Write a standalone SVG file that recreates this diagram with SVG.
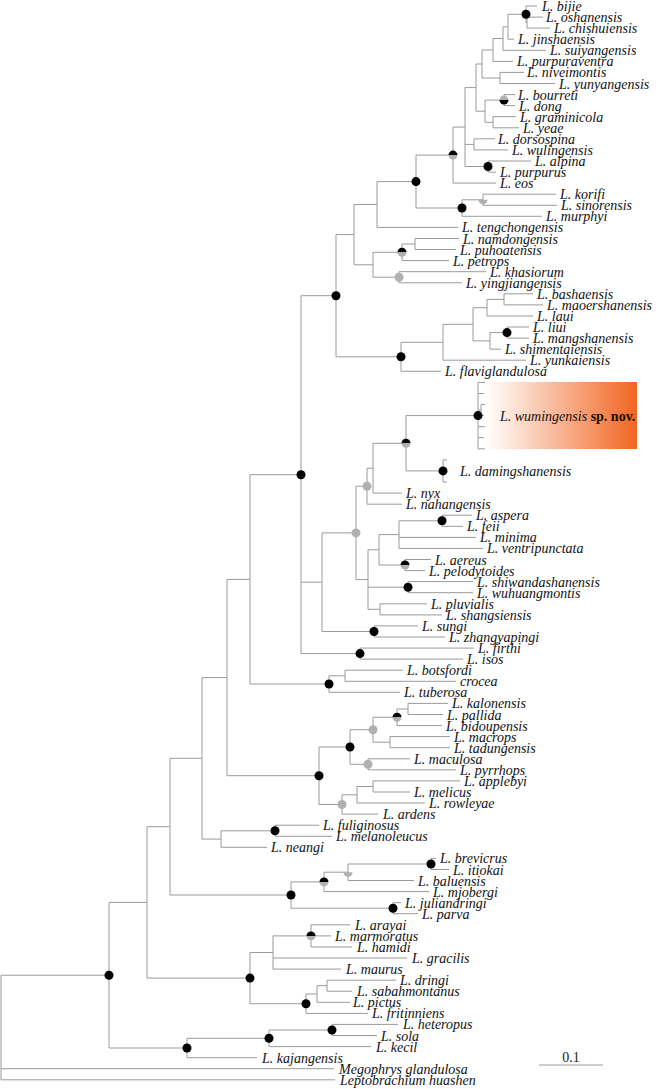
<svg xmlns="http://www.w3.org/2000/svg" xmlns:xlink="http://www.w3.org/1999/xlink" width="662" height="1089" viewBox="0 0 662 1089">
<style>
.e{fill:none;stroke:#9a9a9a;stroke-width:1}
.lb{font-family:"Liberation Serif","Times New Roman",serif;font-style:italic;font-size:14px;fill:#111}
.sc{font-family:"Liberation Serif","Times New Roman",serif;font-size:14px;fill:#222}
.bd{font-style:normal;font-weight:bold}
</style>
<defs>
<linearGradient id="og" x1="0" y1="0" x2="1" y2="0">
<stop offset="0" stop-color="#ffffff"/>
<stop offset="0.08" stop-color="#fef4ee"/>
<stop offset="1" stop-color="#f26522"/>
</linearGradient>
<circle id="cb" r="4.5" fill="#000"/>
<circle id="cg" r="4.5" fill="#b0b0b0"/>
<g id="hbg"><path d="M-4.5 0A4.5 4.5 0 0 1 4.5 0Z" fill="#000"/><path d="M-4.5 0A4.5 4.5 0 0 0 4.5 0Z" fill="#b0b0b0"/></g>
<g id="hgb"><path d="M-4.5 0A4.5 4.5 0 0 1 4.5 0Z" fill="#b0b0b0"/><path d="M-4.5 0A4.5 4.5 0 0 0 4.5 0Z" fill="#000"/></g>
<path id="hg" d="M-4.5 0A4.5 4.5 0 0 0 4.5 0Z" fill="#b0b0b0"/>
</defs>
<rect x="0" y="0" width="662" height="1089" fill="#fff"/>
<g id="highlight"><rect x="485" y="382" width="152" height="67" fill="url(#og)"/></g>
<g id="connectors" class="e">
<path d="M527 17.1V28.1M527 17.1H543M527 28.1H550M526 6V22.6M526 6H537M526 22.6H527M508 14.3V39.2M508 14.3H526M508 39.2H514M503 26.8V50.3M503 26.8H508M503 50.3H546M493 38.5V61.4M493 38.5H503M493 61.4H513M500 72.4V83.5M500 72.4H524M500 83.5H555M482 50V78M482 50H493M482 78H500"/>
<path d="M504 94.6V105.6M504 94.6H515M504 105.6H515M493 116.7V127.8M493 116.7H516M493 127.8H519M485 100.1V122.3M485 100.1H504M485 122.3H493M476 64V111.2M476 64H482M476 111.2H485M474 138.8V149.9M474 138.8H495M474 149.9H508M488 161V172.1M488 161H531M488 172.1H496M465 87.6V166.5M465 87.6H476M465 144.4H474M465 166.5H488M453 127.1V183.1M453 127.1H465M453 183.1H496"/>
<path d="M483 194.2V205.3M483 194.2H556M483 205.3H557M462 199.8V216.3M462 199.8H483M462 216.3H542M416 155.1V208M416 155.1H453M416 208H462M377 181.6V227.4M377 181.6H416M377 227.4H458M415 238.5V249.5M415 238.5H459M415 249.5H456M402 244V260.6M402 244H415M402 260.6H449M399 271.7V282.8M399 271.7H486M399 282.8H462M373 252.3V277.2M373 252.3H402M373 277.2H399M354 204.5V264.8M354 204.5H377M354 264.8H373"/>
<path d="M504 293.8V304.9M504 293.8H533M504 304.9H543M487 299.4V316M487 299.4H504M487 316H533M507 327V338.1M507 327H529M507 338.1H529M490 332.6V349.2M490 332.6H507M490 349.2H501M473 307.7V340.9M473 307.7H487M473 340.9H490M443 324.3V360.2M443 324.3H473M443 360.2H526M401 342.3V371.3M401 342.3H443M401 371.3H441M336 234.6V356.8M336 234.6H354M336 356.8H401"/>
<path d="M478 382.4V448.8M478 382.4H485M478 393.5H484M481 404.5V415.6M478 410H481M481 404.5H485M481 415.6H484M478 426.7H485M478 437.7H484M478 448.8H485M443 459.9V482M443 459.9H447M443 470.9H446M443 482H447M406 415.6V470.9M406 415.6H478M406 470.9H443M373 443.3V493.1M373 443.3H406M373 493.1H402M367 468.2V504.2M367 468.2H373M367 504.2H402"/>
<path d="M442 515.2V526.3M442 515.2H472M442 526.3H463M399 520.8V548.4M399 520.8H442M399 537.4H476M399 548.4H483M405 559.5V570.6M405 559.5H431M405 570.6H425M379 534.6V565M379 534.6H399M379 565H405M408 581.6V592.7M408 581.6H473M408 592.7H473M380 603.8V614.9M380 603.8H427M380 614.9H442M368 549.8V609.3M368 549.8H379M368 587.2H408M368 609.3H380M356 486.2V579.6M356 486.2H367M356 579.6H368M374 625.9V637M374 625.9H418M374 637H445M322 532.9V631.5M322 532.9H356M322 631.5H374M360 648.1V659.1M360 648.1H474M360 659.1H463M301 295.7V653.6M301 295.7H336M301 582.2H322M301 653.6H360M345 670.2V681.3M345 670.2H403M345 681.3H456M329 675.8V692.3M329 675.8H345M329 692.3H400M250 474.7V684M250 474.7H301M250 684H329"/>
<path d="M408 703.4V714.5M408 703.4H448M408 714.5H443M397 709V725.6M397 709H408M397 725.6H442M390 736.6V747.7M390 736.6H450M390 747.7H450M373 717.3V742.2M373 717.3H397M373 742.2H390M368 758.8V769.8M368 758.8H410M368 769.8H456M350 729.7V764.3M350 729.7H373M350 764.3H368M373 780.9V792M373 780.9H460M373 792H410M357 786.5V803M357 786.5H373M357 803H425M342 794.8V814.1M342 794.8H357M342 814.1H378M319 747V804.5M319 747H350M319 804.5H342M227 579.4V775.7M227 579.4H250M227 775.7H319"/>
<path d="M275 825.2V836.3M275 825.2H319M275 836.3H332M221 830.8V847.3M221 830.8H275M221 847.3H267M202 677.6V839.1M202 677.6H227M202 839.1H221M431 858.4V869.5M431 858.4H436M431 869.5H449M348 864V880.5M348 864H431M348 880.5H414M324 872.2V891.6M324 872.2H348M324 891.6H429M393 902.7V913.7M393 902.7H401M393 913.7H418M291 881.9V908.2M291 881.9H324M291 908.2H393M170 758.3V895M170 758.3H202M170 895H291"/>
<path d="M311 924.8V947M311 924.8H350M311 935.9H331M311 947H352M273 935.9V969.1M273 935.9H311M273 958H407M273 969.1H341M327 980.2V991.2M327 980.2H396M327 991.2H352M317 985.7V1002.3M317 985.7H327M317 1002.3H350M306 994V1013.4M306 994H317M306 1013.4H368M250 952.5V1003.7M250 952.5H273M250 1003.7H306M147 826.7V978.1M147 826.7H170M147 978.1H250"/>
<path d="M332 1024.4V1035.5M332 1024.4H398M332 1035.5H377M269 1030V1046.6M269 1030H332M269 1046.6H371M187 1038.3V1057.7M187 1038.3H269M187 1057.7H257M109 902.4V1048M109 902.4H147M109 1048H187M1 975.2V1079.8M1 975.2H109M1 1068.7H334M1 1079.8H335"/>
</g>
<g id="nodes">
<g id="n1"><use xlink:href="#cb" x="526" y="14.3"/></g>
<g id="n-bourreti-dong"><use xlink:href="#hgb" x="504" y="100.1"/></g>
<g id="n-alpina"><use xlink:href="#cb" x="488" y="166.5"/></g>
<g id="n8"><use xlink:href="#hbg" x="453" y="155.1"/></g>
<g id="n-korifi"><use xlink:href="#hg" x="483" y="199.8"/></g>
<g id="n-murphyi"><use xlink:href="#cb" x="462" y="208"/></g>
<g id="n9"><use xlink:href="#cb" x="416" y="181.6"/></g>
<g id="n-petrops"><use xlink:href="#hbg" x="402" y="252.3"/></g>
<g id="n-khasiorum"><use xlink:href="#cg" x="399" y="277.2"/></g>
<g id="n-liui"><use xlink:href="#cb" x="507" y="332.6"/></g>
<g id="n14"><use xlink:href="#cb" x="401" y="356.8"/></g>
<g id="n13"><use xlink:href="#cb" x="336" y="295.7"/></g>
<g id="n-wumingensis"><use xlink:href="#cb" x="478" y="415.6"/></g>
<g id="n-damingshanensis"><use xlink:href="#cb" x="443" y="470.9"/></g>
<g id="m6"><use xlink:href="#hbg" x="406" y="443.3"/></g>
<g id="m4"><use xlink:href="#cg" x="367" y="486.2"/></g>
<g id="n-aspera"><use xlink:href="#cb" x="442" y="520.8"/></g>
<g id="n-aereus"><use xlink:href="#hbg" x="405" y="565"/></g>
<g id="n-shiwandashanensis"><use xlink:href="#cb" x="408" y="587.2"/></g>
<g id="m3"><use xlink:href="#cg" x="356" y="532.9"/></g>
<g id="n-sungi"><use xlink:href="#cb" x="374" y="631.5"/></g>
<g id="n-firthi"><use xlink:href="#cb" x="360" y="653.6"/></g>
<g id="m1"><use xlink:href="#cb" x="301" y="474.7"/></g>
<g id="n-tuberosa"><use xlink:href="#cb" x="329" y="684"/></g>
<g id="n-kalonensis"><use xlink:href="#hbg" x="397" y="717.3"/></g>
<g id="k3"><use xlink:href="#cg" x="373" y="729.7"/></g>
<g id="k4"><use xlink:href="#cg" x="368" y="764.3"/></g>
<g id="k1"><use xlink:href="#cb" x="350" y="747"/></g>
<g id="k2"><use xlink:href="#cg" x="342" y="804.5"/></g>
<g id="k"><use xlink:href="#cb" x="319" y="775.7"/></g>
<g id="n-fuliginosus"><use xlink:href="#cb" x="275" y="830.8"/></g>
<g id="n-brevicrus"><use xlink:href="#cb" x="431" y="864"/></g>
<g id="n-baluensis"><use xlink:href="#hg" x="348" y="872.2"/></g>
<g id="n-mjobergi"><use xlink:href="#hbg" x="324" y="881.9"/></g>
<g id="n-juliandringi"><use xlink:href="#cb" x="393" y="908.2"/></g>
<g id="b"><use xlink:href="#cb" x="291" y="895"/></g>
<g id="n-arayai"><use xlink:href="#hbg" x="311" y="935.9"/></g>
<g id="n-fritinniens"><use xlink:href="#cb" x="306" y="1003.7"/></g>
<g id="a"><use xlink:href="#cb" x="250" y="978.1"/></g>
<g id="n-heteropus"><use xlink:href="#cb" x="332" y="1030"/></g>
<g id="n-kecil"><use xlink:href="#cb" x="269" y="1038.3"/></g>
<g id="n-kajangensis"><use xlink:href="#cb" x="187" y="1048"/></g>
<g id="r1"><use xlink:href="#cb" x="109" y="975.2"/></g>
</g>
<g id="tips" class="lb">
<g id="t0"><text x="542" y="11">L. bijie</text></g>
<g id="t1"><text x="546" y="22.1">L. oshanensis</text></g>
<g id="t2"><text x="554" y="33.1">L. chishuiensis</text></g>
<g id="t3"><text x="518" y="44.2">L. jinshaensis</text></g>
<g id="t4"><text x="550" y="55.3">L. suiyangensis</text></g>
<g id="t5"><text x="517" y="66.4">L. purpuraventra</text></g>
<g id="t6"><text x="527" y="77.4">L. niveimontis</text></g>
<g id="t7"><text x="559" y="88.5">L. yunyangensis</text></g>
<g id="t8"><text x="518" y="99.6">L. bourreti</text></g>
<g id="t9"><text x="519" y="110.6">L. dong</text></g>
<g id="t10"><text x="520" y="121.7">L. graminicola</text></g>
<g id="t11"><text x="523" y="132.8">L. yeae</text></g>
<g id="t12"><text x="498" y="143.8">L. dorsospina</text></g>
<g id="t13"><text x="512" y="154.9">L. wulingensis</text></g>
<g id="t14"><text x="535" y="166">L. alpina</text></g>
<g id="t15"><text x="500" y="177.1">L. purpurus</text></g>
<g id="t16"><text x="500" y="188.1">L. eos</text></g>
<g id="t17"><text x="560" y="199.2">L. korifi</text></g>
<g id="t18"><text x="561" y="210.3">L. sinorensis</text></g>
<g id="t19"><text x="546" y="221.3">L. murphyi</text></g>
<g id="t20"><text x="462" y="232.4">L. tengchongensis</text></g>
<g id="t21"><text x="463" y="243.5">L. namdongensis</text></g>
<g id="t22"><text x="460" y="254.5">L. puhoatensis</text></g>
<g id="t23"><text x="453" y="265.6">L. petrops</text></g>
<g id="t24"><text x="490" y="276.7">L. khasiorum</text></g>
<g id="t25"><text x="466" y="287.8">L. yingjiangensis</text></g>
<g id="t26"><text x="537" y="298.8">L. bashaensis</text></g>
<g id="t27"><text x="547" y="309.9">L. maoershanensis</text></g>
<g id="t28"><text x="537" y="321">L. laui</text></g>
<g id="t29"><text x="533" y="332">L. liui</text></g>
<g id="t30"><text x="533" y="343.1">L. mangshanensis</text></g>
<g id="t31"><text x="505" y="354.2">L. shimentaiensis</text></g>
<g id="t32"><text x="530" y="365.2">L. yunkaiensis</text></g>
<g id="t33"><text x="445" y="376.3">L. flaviglandulosa</text></g>
<g id="t-wumingensis"><text x="500" y="420.6">L. wumingensis <tspan class="bd">sp. nov.</tspan></text></g>
<g id="t-damingshanensis"><text x="460" y="475.9">L. damingshanensis</text></g>
<g id="t44"><text x="406" y="498.1">L. nyx</text></g>
<g id="t45"><text x="406" y="509.2">L. nahangensis</text></g>
<g id="t46"><text x="476" y="520.2">L. aspera</text></g>
<g id="t47"><text x="467" y="531.3">L. feii</text></g>
<g id="t48"><text x="480" y="542.4">L. minima</text></g>
<g id="t49"><text x="487" y="553.4">L. ventripunctata</text></g>
<g id="t50"><text x="435" y="564.5">L. aereus</text></g>
<g id="t51"><text x="429" y="575.6">L. pelodytoides</text></g>
<g id="t52"><text x="477" y="586.6">L. shiwandashanensis</text></g>
<g id="t53"><text x="477" y="597.7">L. wuhuangmontis</text></g>
<g id="t54"><text x="431" y="608.8">L. pluvialis</text></g>
<g id="t55"><text x="446" y="619.9">L. shangsiensis</text></g>
<g id="t56"><text x="422" y="630.9">L. sungi</text></g>
<g id="t57"><text x="449" y="642">L. zhangyapingi</text></g>
<g id="t58"><text x="478" y="653.1">L. firthi</text></g>
<g id="t59"><text x="467" y="664.1">L. isos</text></g>
<g id="t60"><text x="407" y="675.2">L. botsfordi</text></g>
<g id="t61"><text x="460" y="686.3">crocea</text></g>
<g id="t62"><text x="404" y="697.3">L. tuberosa</text></g>
<g id="t63"><text x="452" y="708.4">L. kalonensis</text></g>
<g id="t64"><text x="447" y="719.5">L. pallida</text></g>
<g id="t65"><text x="446" y="730.6">L. bidoupensis</text></g>
<g id="t66"><text x="454" y="741.6">L. macrops</text></g>
<g id="t67"><text x="454" y="752.7">L. tadungensis</text></g>
<g id="t68"><text x="414" y="763.8">L. maculosa</text></g>
<g id="t69"><text x="460" y="774.8">L. pyrrhops</text></g>
<g id="t70"><text x="464" y="785.9">L. applebyi</text></g>
<g id="t71"><text x="414" y="797">L. melicus</text></g>
<g id="t72"><text x="429" y="808">L. rowleyae</text></g>
<g id="t73"><text x="383" y="819.1">L. ardens</text></g>
<g id="t74"><text x="323" y="830.2">L. fuliginosus</text></g>
<g id="t75"><text x="336" y="841.3">L. melanoleucus</text></g>
<g id="t76"><text x="271" y="852.3">L. neangi</text></g>
<g id="t77"><text x="440" y="863.4">L. brevicrus</text></g>
<g id="t78"><text x="453" y="874.5">L. itiokai</text></g>
<g id="t79"><text x="418" y="885.5">L. baluensis</text></g>
<g id="t80"><text x="433" y="896.6">L. mjobergi</text></g>
<g id="t81"><text x="405" y="907.7">L. juliandringi</text></g>
<g id="t82"><text x="422" y="918.7">L. parva</text></g>
<g id="t83"><text x="355" y="929.8">L. arayai</text></g>
<g id="t84"><text x="335" y="940.9">L. marmoratus</text></g>
<g id="t85"><text x="357" y="952">L. hamidi</text></g>
<g id="t86"><text x="412" y="963">L. gracilis</text></g>
<g id="t87"><text x="346" y="974.1">L. maurus</text></g>
<g id="t88"><text x="400" y="985.2">L. dringi</text></g>
<g id="t89"><text x="357" y="996.2">L. sabahmontanus</text></g>
<g id="t90"><text x="353" y="1007.3">L. pictus</text></g>
<g id="t91"><text x="372" y="1018.4">L. fritinniens</text></g>
<g id="t92"><text x="403" y="1029.4">L. heteropus</text></g>
<g id="t93"><text x="381" y="1040.5">L. sola</text></g>
<g id="t94"><text x="376" y="1051.6">L. kecil</text></g>
<g id="t95"><text x="262" y="1062.7">L. kajangensis</text></g>
<g id="t96"><text x="339" y="1073.7">Megophrys glandulosa</text></g>
<g id="t97"><text x="340" y="1084.8">Leptobrachium huashen</text></g>
</g>
<g id="scalebar">
<path d="M539 1065H603" stroke="#9a9a9a" stroke-width="1"/>
<text class="sc" x="571" y="1062" text-anchor="middle">0.1</text>
</g>
</svg>
